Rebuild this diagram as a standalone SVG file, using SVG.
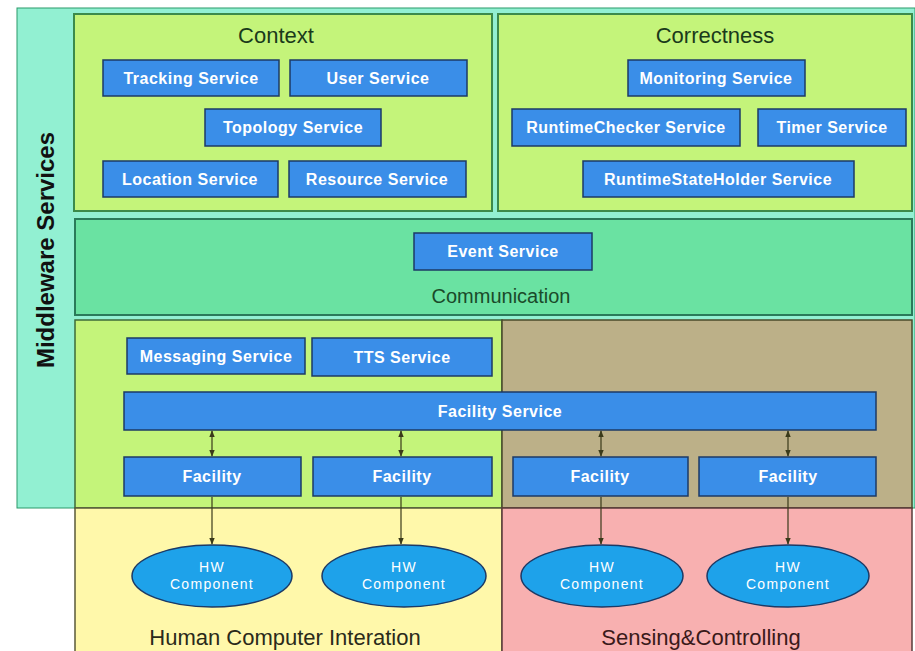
<svg xmlns="http://www.w3.org/2000/svg" width="915" height="651" viewBox="0 0 915 651">
<defs>
<marker id="ah" viewBox="0 0 10 10" refX="9" refY="5" markerWidth="6" markerHeight="6" orient="auto-start-reverse"><path d="M0,1 L10,5 L0,9 z" fill="#3a3a1a"/></marker>
<style>
.svc{fill:#3a8ee8;stroke:#1c3a66;stroke-width:1.5}
.hw{fill:#1ea2ea;stroke:#1c3a66;stroke-width:1.5}
.lbl{font-family:"Liberation Sans",Arial,sans-serif;font-size:16px;letter-spacing:0.5px;font-weight:bold;fill:#ffffff;text-anchor:middle;dominant-baseline:central}
.hwt{font-family:"Liberation Sans",Arial,sans-serif;font-size:14px;letter-spacing:1.3px;fill:#ffffff;text-anchor:middle}
.title{font-family:"Liberation Sans",Arial,sans-serif;font-size:22px;text-anchor:middle}
.con{stroke:#3a3a1a;stroke-width:1.2;fill:none}
</style>
</defs>
<rect width="915" height="651" fill="#ffffff"/>
<g id="middleware">
<rect x="17" y="8" width="898" height="500" fill="#92f0d2" stroke="#2a9a6a" stroke-width="1"/>
<text x="45" y="250" transform="rotate(-90 45 250)" font-family="Liberation Sans,Arial,sans-serif" font-size="24" font-weight="bold" fill="#111" text-anchor="middle" dominant-baseline="central">Middleware Services</text>
</g>
<g id="context">
<rect x="74" y="14" width="418" height="197" fill="#c4f47a" stroke="#3c8a4a" stroke-width="2"/>
<text class="title" x="276" y="43" fill="#1a3a1a">Context</text>
</g>
<g id="correctness">
<rect x="498" y="14" width="414" height="197" fill="#c4f47a" stroke="#3c8a4a" stroke-width="2"/>
<text class="title" x="715" y="43" fill="#1a3a1a">Correctness</text>
</g>
<g id="communication">
<rect x="75" y="219" width="837" height="96" fill="#6ae2a2" stroke="#2a7a5a" stroke-width="2"/>
<text class="title" x="501" y="303" fill="#1a4a2a" style="font-size:20px">Communication</text>
</g>
<g id="hci-mw">
<rect x="75" y="320" width="427" height="188" fill="#c4f47a" stroke="#3c6a3a" stroke-width="1.5"/>
</g>
<g id="sc-mw">
<rect x="502" y="320" width="410" height="188" fill="#bcb088" stroke="#4a4a2a" stroke-width="1.5"/>
</g>
<g id="hci">
<rect x="75" y="508" width="427" height="150" fill="#fff8aa" stroke="#5a5a3a" stroke-width="1.5"/>
<text class="title" x="285" y="645" fill="#2a2a1a">Human Computer Interation</text>
</g>
<g id="sc">
<rect x="502" y="508" width="410" height="150" fill="#f8b0b0" stroke="#5a3a3a" stroke-width="1.5"/>
<text class="title" x="701" y="645" fill="#3a1a1a">Sensing&amp;Controlling</text>
</g>
<g id="tracking"><rect class="svc" x="103" y="60" width="176" height="36"/><text class="lbl" x="191" y="78">Tracking Service</text></g>
<g id="user"><rect class="svc" x="290" y="60" width="177" height="36"/><text class="lbl" x="378" y="78">User Service</text></g>
<g id="topology"><rect class="svc" x="205" y="109" width="176" height="37"/><text class="lbl" x="293" y="127">Topology Service</text></g>
<g id="location"><rect class="svc" x="103" y="161" width="175" height="36"/><text class="lbl" x="190" y="179">Location Service</text></g>
<g id="resource"><rect class="svc" x="289" y="161" width="177" height="36"/><text class="lbl" x="377" y="179">Resource Service</text></g>
<g id="monitoring"><rect class="svc" x="628" y="60" width="177" height="36"/><text class="lbl" x="716" y="78">Monitoring Service</text></g>
<g id="runtimechecker"><rect class="svc" x="512" y="109" width="228" height="37"/><text class="lbl" x="626" y="127">RuntimeChecker Service</text></g>
<g id="timer"><rect class="svc" x="758" y="109" width="148" height="37"/><text class="lbl" x="832" y="127">Timer Service</text></g>
<g id="runtimestateholder"><rect class="svc" x="583" y="161" width="271" height="36"/><text class="lbl" x="718" y="179">RuntimeStateHolder Service</text></g>
<g id="event"><rect class="svc" x="414" y="233" width="178" height="37"/><text class="lbl" x="503" y="251">Event Service</text></g>
<g id="messaging"><rect class="svc" x="127" y="338" width="178" height="36"/><text class="lbl" x="216" y="356">Messaging Service</text></g>
<g id="tts"><rect class="svc" x="312" y="338" width="180" height="38"/><text class="lbl" x="402" y="357">TTS Service</text></g>
<g id="facilityservice"><rect class="svc" x="124" y="392" width="752" height="38"/><text class="lbl" x="500" y="411">Facility Service</text></g>
<g id="facility1"><rect class="svc" x="124" y="457" width="177" height="39"/><text class="lbl" x="212" y="476">Facility</text></g>
<g id="facility2"><rect class="svc" x="313" y="457" width="179" height="39"/><text class="lbl" x="402" y="476">Facility</text></g>
<g id="facility3"><rect class="svc" x="513" y="457" width="175" height="39"/><text class="lbl" x="600" y="476">Facility</text></g>
<g id="facility4"><rect class="svc" x="699" y="457" width="177" height="39"/><text class="lbl" x="788" y="476">Facility</text></g>
<g id="hw1"><ellipse class="hw" cx="212" cy="576" rx="80" ry="31"/><text class="hwt" x="212" y="572">HW</text><text class="hwt" x="212" y="589">Component</text></g>
<g id="hw2"><ellipse class="hw" cx="404" cy="576" rx="82" ry="31"/><text class="hwt" x="404" y="572">HW</text><text class="hwt" x="404" y="589">Component</text></g>
<g id="hw3"><ellipse class="hw" cx="602" cy="576" rx="81" ry="31"/><text class="hwt" x="602" y="572">HW</text><text class="hwt" x="602" y="589">Component</text></g>
<g id="hw4"><ellipse class="hw" cx="788" cy="576" rx="81" ry="31"/><text class="hwt" x="788" y="572">HW</text><text class="hwt" x="788" y="589">Component</text></g>
<g id="connectors">
<line class="con" x1="212" y1="431" x2="212" y2="456" marker-start="url(#ah)" marker-end="url(#ah)"/>
<line class="con" x1="401" y1="431" x2="401" y2="456" marker-start="url(#ah)" marker-end="url(#ah)"/>
<line class="con" x1="601" y1="431" x2="601" y2="456" marker-start="url(#ah)" marker-end="url(#ah)"/>
<line class="con" x1="788" y1="431" x2="788" y2="456" marker-start="url(#ah)" marker-end="url(#ah)"/>
<line class="con" x1="212" y1="497" x2="212" y2="544" marker-end="url(#ah)"/>
<line class="con" x1="401" y1="497" x2="401" y2="544" marker-end="url(#ah)"/>
<line class="con" x1="601" y1="497" x2="601" y2="544" marker-end="url(#ah)"/>
<line class="con" x1="788" y1="497" x2="788" y2="544" marker-end="url(#ah)"/>
</g>
</svg>
